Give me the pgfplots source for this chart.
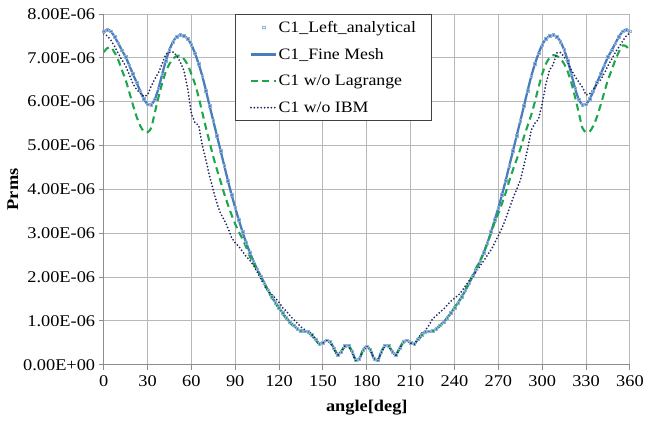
\documentclass[border=0pt]{standalone}
\usepackage{fontspec}
\setmainfont{Liberation Serif}[FakeStretch=1.12]
\usepackage{pgfplots}
\pgfplotsset{compat=1.18}
\usepackage{pgfplotstable}
\definecolor{fineblue}{HTML}{4A7EBB}
\definecolor{sqblue}{HTML}{8EB0DA}
\definecolor{lgreen}{HTML}{1BA74A}
\definecolor{ibmnavy}{HTML}{1F2660}

\pgfplotstableread{
x y
0 7.60
2.5 7.64
5 7.60
7.5 7.48
10 7.33
12.5 7.17
15 7.02
17.5 6.83
20 6.63
22.5 6.44
25 6.24
27.5 6.06
30 5.94
32.5 5.93
35 6.05
37.5 6.30
40 6.62
42.5 6.93
45 7.18
47.5 7.37
50 7.48
52.5 7.52
55 7.50
57.5 7.43
60 7.30
62.5 7.10
65 6.86
67.5 6.58
70 6.25
72.5 5.90
75 5.56
77.5 5.22
80 4.88
82.5 4.54
85 4.20
87.5 3.88
90 3.58
92.5 3.30
95 3.03
97.5 2.78
100 2.56
102.5 2.36
105 2.18
107.5 2.02
110 1.86
112.5 1.70
115 1.55
117.5 1.42
120 1.30
122.5 1.18
125 1.07
127.5 0.97
130 0.90
132.5 0.82
135 0.77
137.5 0.76
140 0.75
142.5 0.68
145 0.58
147.5 0.48
150 0.50
152.5 0.56
155 0.52
157.5 0.38
160 0.23
162.5 0.30
165 0.43
167.5 0.44
170 0.30
172.5 0.10
175 0.14
177.5 0.34
180 0.42
182.5 0.34
185 0.14
187.5 0.10
190 0.30
192.5 0.44
195 0.43
197.5 0.30
200 0.23
202.5 0.38
205 0.52
207.5 0.56
210 0.50
212.5 0.48
215 0.58
217.5 0.68
220 0.75
222.5 0.76
225 0.77
227.5 0.82
230 0.90
232.5 0.97
235 1.07
237.5 1.18
240 1.30
242.5 1.42
245 1.55
247.5 1.70
250 1.86
252.5 2.02
255 2.18
257.5 2.36
260 2.56
262.5 2.78
265 3.03
267.5 3.30
270 3.58
272.5 3.88
275 4.20
277.5 4.54
280 4.88
282.5 5.22
285 5.56
287.5 5.90
290 6.25
292.5 6.58
295 6.86
297.5 7.10
300 7.30
302.5 7.43
305 7.50
307.5 7.52
310 7.48
312.5 7.37
315 7.18
317.5 6.93
320 6.62
322.5 6.30
325 6.05
327.5 5.93
330 5.94
332.5 6.06
335 6.24
337.5 6.44
340 6.63
342.5 6.83
345 7.02
347.5 7.17
350 7.33
352.5 7.48
355 7.60
357.5 7.64
360 7.60
}\finemesh

\pgfplotstableread{
x y
0 7.13
2.5 7.22
5 7.24
7.5 7.12
10 6.95
12.5 6.72
15 6.50
17.5 6.22
20 5.93
22.5 5.66
25 5.45
27.5 5.32
30 5.30
32.5 5.40
35 5.75
37.5 6.10
40 6.42
42.5 6.68
45 6.86
47.5 6.98
50 7.04
52.5 7.05
55 6.97
57.5 6.84
60 6.63
62.5 6.40
65 6.10
67.5 5.75
70 5.40
72.5 5.07
75 4.74
77.5 4.45
80 4.18
82.5 3.90
85 3.65
87.5 3.42
90 3.21
92.5 3.03
95 2.87
97.5 2.68
100 2.47
102.5 2.31
105 2.15
107.5 1.99
110 1.84
112.5 1.68
115 1.53
117.5 1.40
120 1.28
122.5 1.16
125 1.05
127.5 0.95
130 0.88
132.5 0.81
135 0.77
137.5 0.75
140 0.73
142.5 0.66
145 0.56
147.5 0.48
150 0.50
152.5 0.55
155 0.51
157.5 0.38
160 0.24
162.5 0.30
165 0.42
167.5 0.43
170 0.30
172.5 0.11
175 0.15
177.5 0.34
180 0.41
182.5 0.34
185 0.15
187.5 0.11
190 0.30
192.5 0.43
195 0.42
197.5 0.30
200 0.24
202.5 0.38
205 0.51
207.5 0.55
210 0.50
212.5 0.48
215 0.56
217.5 0.66
220 0.73
222.5 0.75
225 0.77
227.5 0.81
230 0.88
232.5 0.97
235 1.07
237.5 1.18
240 1.30
242.5 1.42
245 1.56
247.5 1.72
250 1.88
252.5 2.05
255 2.22
257.5 2.38
260 2.55
262.5 2.78
265 3.00
267.5 3.25
270 3.45
272.5 3.68
275 3.92
277.5 4.20
280 4.45
282.5 4.68
285 4.92
287.5 5.20
290 5.45
292.5 5.70
295 6.00
297.5 6.33
300 6.63
302.5 6.86
305 7.00
307.5 7.06
310 7.04
312.5 6.98
315 6.86
317.5 6.68
320 6.42
322.5 6.10
325 5.75
327.5 5.40
330 5.30
332.5 5.32
335 5.45
337.5 5.66
340 5.93
342.5 6.22
345 6.50
347.5 6.72
350 6.95
352.5 7.14
355 7.28
357.5 7.26
360 7.16
}\nolagrange

\pgfplotstableread{
x y
0 7.55
2.5 7.50
5 7.40
7.5 7.26
10 7.10
12.5 6.95
15 6.82
17.5 6.62
20 6.41
22.5 6.28
25 6.20
27.5 6.12
30 6.15
32.5 6.35
35 6.52
37.5 6.66
40 6.86
42.5 7.08
45 7.13
47.5 7.13
50 7.05
52.5 6.90
55 6.70
57.5 6.30
60 5.72
62.5 5.52
65 5.46
67.5 5.00
70 4.66
72.5 4.30
75 3.98
77.5 3.68
80 3.45
82.5 3.30
85 3.12
87.5 2.90
90 2.78
92.5 2.70
95 2.58
97.5 2.47
100 2.38
102.5 2.27
105 2.12
107.5 1.97
110 1.80
112.5 1.68
115 1.60
117.5 1.52
120 1.42
122.5 1.30
125 1.22
127.5 1.12
130 1.03
132.5 0.95
135 0.86
137.5 0.80
140 0.76
142.5 0.70
145 0.56
147.5 0.46
150 0.49
152.5 0.56
155 0.50
157.5 0.35
160 0.21
162.5 0.30
165 0.43
167.5 0.42
170 0.27
172.5 0.08
175 0.13
177.5 0.33
180 0.41
182.5 0.33
185 0.12
187.5 0.09
190 0.29
192.5 0.43
195 0.42
197.5 0.28
200 0.21
202.5 0.37
205 0.51
207.5 0.55
210 0.48
212.5 0.47
215 0.60
217.5 0.72
220 0.78
222.5 0.90
225 1.05
227.5 1.12
230 1.20
232.5 1.27
235 1.36
237.5 1.45
240 1.52
242.5 1.58
245 1.68
247.5 1.80
250 1.92
252.5 2.02
255 2.13
257.5 2.25
260 2.37
262.5 2.50
265 2.62
267.5 2.78
270 2.95
272.5 3.12
275 3.33
277.5 3.56
280 3.80
282.5 4.00
285 4.20
287.5 4.55
290 4.92
292.5 5.35
295 5.51
297.5 5.60
300 5.96
302.5 6.40
305 6.72
307.5 6.85
310 7.11
312.5 7.12
315 7.02
317.5 6.89
320 6.72
322.5 6.57
325 6.45
327.5 6.33
330 6.15
332.5 6.18
335 6.28
337.5 6.40
340 6.50
342.5 6.65
345 6.82
347.5 6.97
350 7.12
352.5 7.25
355 7.38
357.5 7.50
360 7.57
}\noibm

\begin{document}
\begin{tikzpicture}
\begin{axis}[
  scale only axis,
  width=528bp, height=352bp,
  xmin=0, xmax=360, ymin=0, ymax=8,
  xtick={0,30,...,360},
  ytick={0,1,...,8},
  yticklabels={0.00E+00,1.00E-06,2.00E-06,3.00E-06,4.00E-06,5.00E-06,6.00E-06,7.00E-06,8.00E-06},
  axis lines=left,
  axis line style={-, draw=black!45, line width=0.9pt},
  grid=major,
  major grid style={draw=black!28, line width=0.9pt},
  tick align=outside,
  major tick length=5bp,
  tick style={draw=black!45, line width=0.9pt},
  tick label style={font=\fontsize{16.5}{19}\selectfont},
  xticklabel style={yshift=-2bp},
  /pgf/number format/assume math mode=true,
  xlabel={\textbf{angle[deg]}},
  ylabel={\textbf{Prms}},
  label style={font=\fontsize{16.5}{19}\selectfont},
  xlabel style={yshift=-7bp},
  ylabel style={yshift=-2bp},
  legend cell align=left,
  legend style={at={(0.25,1)}, anchor=north west, draw=black!75,
    font=\fontsize{16}{19}\selectfont, row sep=12.5bp, inner xsep=14.5bp, inner ysep=6bp,
    nodes={inner sep=1bp}},
  legend image code/.code={\draw[mark repeat=2,mark phase=2,#1] plot coordinates {(0cm,0cm) (0.45cm,0cm) (0.9cm,0cm)};},
]
\addplot[only marks, mark=square, mark size=1.3pt, mark options={draw=sqblue, line width=0.6pt}] table {\finemesh};
\addlegendentry{C1\_Left\_analytical}
\addplot[draw=fineblue, line width=2.3pt, smooth, tension=0.4] table {\finemesh};
\addlegendentry{C1\_Fine Mesh}
\addplot[draw=lgreen, line width=2.1pt, dash pattern=on 7bp off 4.5bp, smooth, tension=0.4] table {\nolagrange};
\addlegendentry{C1 w/o Lagrange}
\addplot[draw=ibmnavy, line width=2pt, line cap=round, dash pattern=on 0bp off 3.4bp] table {\noibm};
\addlegendentry{C1 w/o IBM}
\end{axis}
\path ([xshift=-104bp,yshift=-59bp]current axis.south west);
\path ([xshift=15bp,yshift=14bp]current axis.north east);
\end{tikzpicture}
\end{document}
